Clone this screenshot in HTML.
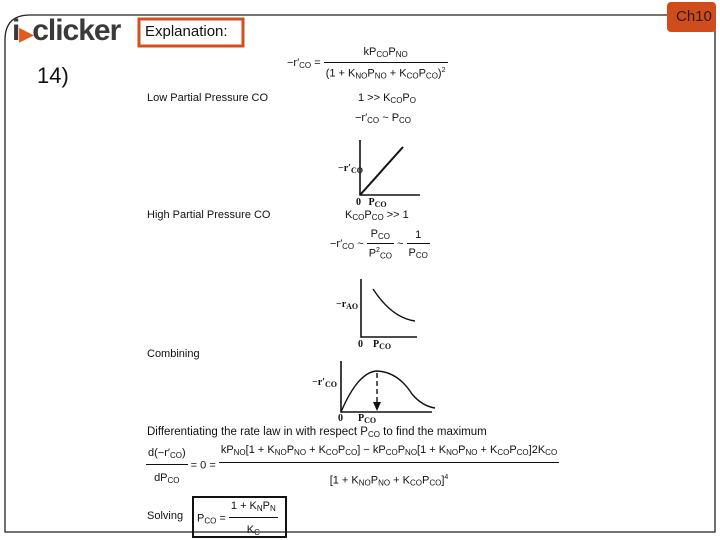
<!DOCTYPE html>
<html><head><meta charset="utf-8"><style>
body{margin:0;width:720px;height:540px;background:#fff;position:relative;overflow:hidden;font-family:"Liberation Sans",sans-serif;color:#111}
.a{position:absolute;white-space:nowrap;font-size:11px}
sub{font-size:8px;vertical-align:-2px}
sup{font-size:7px}
.fr{display:inline-block;vertical-align:middle;text-align:center}
.fr>span{display:block;padding:0 2px}
.fr>span:first-child{border-bottom:1px solid #111}
.s{font-family:"Liberation Serif",serif;font-weight:bold;font-size:10px}
</style></head><body>
<svg style="position:absolute;left:0;top:0" width="720" height="540">
<path d="M715 15 L715 532 L5 532 L5 40 Q5 15 30 15 Z" fill="none" stroke="#222" stroke-width="1.3"/>
<rect x="667" y="2" width="49" height="30" rx="4" fill="#cf4d1c"/>
<rect x="139" y="19" width="104" height="27" fill="#fff" stroke="#d0501f" stroke-width="3"/>
<path d="M360 140 L360 195 L420 195" fill="none" stroke="#111" stroke-width="1.6"/>
<line x1="360" y1="195" x2="403" y2="147" stroke="#111" stroke-width="2"/>
<path d="M361 279 L361 337 L417 337" fill="none" stroke="#111" stroke-width="1.6"/>
<path d="M373 289 Q392 318 415 321" fill="none" stroke="#111" stroke-width="1.4"/>
<path d="M341 361 L341 412 L432 412" fill="none" stroke="#111" stroke-width="1.6"/>
<path d="M341 412 Q358 372 377 371 Q398 372 412 394 Q422 406 435 408" fill="none" stroke="#111" stroke-width="1.4"/>
<line x1="377" y1="373" x2="377" y2="404" stroke="#111" stroke-width="1.4" stroke-dasharray="5,3"/>
<path d="M373 402 L377 411 L381 402 Z" fill="#111"/>
<rect x="193" y="497" width="93" height="40" fill="none" stroke="#111" stroke-width="2"/>
</svg>
<div class="a" style="left:676px;top:8px;font-size:15px;color:#2a1a10">Ch10</div>
<div class="a" style="left:12px;top:14px;font-size:30px;font-weight:bold;color:#3a3a3a;letter-spacing:-1px">i<span style="color:#e25a1c;font-size:18px">&#9654;</span>clicker</div>
<div class="a" style="left:145px;top:23px;font-size:15px">Explanation:</div>
<div class="a" style="left:37px;top:63px;font-size:22px">14)</div>
<div class="a" style="left:287px;top:46px">−r′<sub>CO</sub> = <span class="fr"><span style="padding-bottom:3px">kP<sub>CO</sub>P<sub>NO</sub></span><span style="padding-top:4px">(1 + K<sub>NO</sub>P<sub>NO</sub> + K<sub>CO</sub>P<sub>CO</sub>)<sup>2</sup></span></span></div>
<div class="a" style="left:147px;top:92px">Low Partial Pressure CO</div>
<div class="a" style="left:358px;top:92px">1 &gt;&gt; K<sub>CO</sub>P<sub>O</sub></div>
<div class="a" style="left:355px;top:112px">−r′<sub>CO</sub> ~ P<sub>CO</sub></div>
<div class="a s" style="left:338px;top:163px">−r′<sub>CO</sub></div>
<div class="a s" style="left:356px;top:197px">0 &nbsp;&nbsp;P<sub>CO</sub></div>
<div class="a" style="left:147px;top:209px">High Partial Pressure CO</div>
<div class="a" style="left:345px;top:209px">K<sub>CO</sub>P<sub>CO</sub> &gt;&gt; 1</div>
<div class="a" style="left:330px;top:228px">−r′<sub>CO</sub> ~ <span class="fr"><span style="padding-bottom:2px">P<sub>CO</sub></span><span style="padding-top:3px">P<sup>2</sup><sub>CO</sub></span></span> ~ <span class="fr"><span style="padding-bottom:2px">1</span><span style="padding-top:3px">P<sub>CO</sub></span></span></div>
<div class="a s" style="left:336px;top:299px">−r<sub>AO</sub></div>
<div class="a s" style="left:358px;top:339px">0 &nbsp;&nbsp;&nbsp;P<sub>CO</sub></div>
<div class="a" style="left:147px;top:348px">Combining</div>
<div class="a s" style="left:312px;top:377px">−r′<sub>CO</sub></div>
<div class="a s" style="left:338px;top:413px">0 &nbsp;&nbsp;&nbsp;&nbsp;&nbsp;P<sub>CO</sub></div>
<div class="a" style="left:147px;top:426px;font-size:11.5px">Differentiating the rate law in with respect P<sub>CO</sub> to find the maximum</div>
<div class="a" style="left:146px;top:444px;font-size:11px"><span class="fr"><span style="padding-bottom:4px">d(−r′<sub>CO</sub>)</span><span style="padding-top:7px">dP<sub>CO</sub></span></span> = 0 = <span class="fr"><span style="padding-bottom:5px">kP<sub>NO</sub>[1 + K<sub>NO</sub>P<sub>NO</sub> + K<sub>CO</sub>P<sub>CO</sub>] − kP<sub>CO</sub>P<sub>NO</sub>[1 + K<sub>NO</sub>P<sub>NO</sub> + K<sub>CO</sub>P<sub>CO</sub>]2K<sub>CO</sub></span><span style="padding-top:11px">[1 + K<sub>NO</sub>P<sub>NO</sub> + K<sub>CO</sub>P<sub>CO</sub>]<sup>4</sup></span></span></div>
<div class="a" style="left:147px;top:510px">Solving</div>
<div class="a" style="left:197px;top:500px">P<sub>CO</sub> = <span class="fr"><span style="padding-bottom:4px">1 + K<sub>N</sub>P<sub>N</sub></span><span style="padding-top:6px">K<sub>C</sub></span></span></div>
</body></html>
